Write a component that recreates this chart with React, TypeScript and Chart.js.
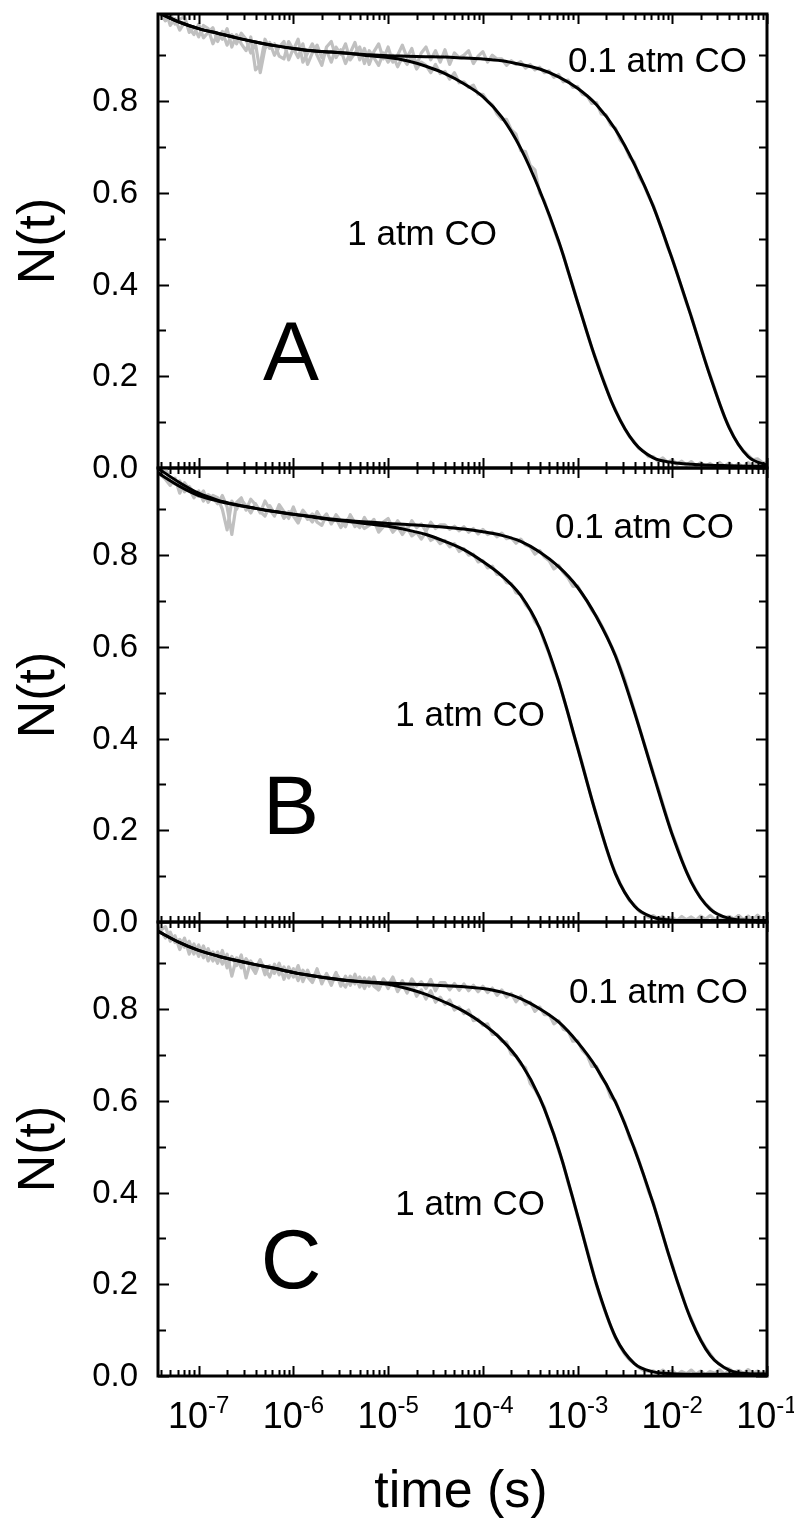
import React, { useEffect, useRef } from "react";
import { Chart, registerables } from "chart.js";
Chart.register(...registerables);

// ---------- data (log10 of time in s, and N(t)) ----------
const fitLogT = [-7.45, -7.2, -7.0, -6.8, -6.6, -6.4, -6.2, -6.0, -5.8, -5.6, -5.4, -5.2, -5.0, -4.8, -4.6, -4.4, -4.2, -4.0, -3.8, -3.6, -3.4, -3.2, -3.0, -2.8, -2.6, -2.4, -2.2, -2.0, -1.8, -1.6, -1.4, -1.2, -1.0];

const fitA_01 = [0.995, 0.972, 0.958, 0.948, 0.938, 0.929, 0.921, 0.915, 0.910, 0.907, 0.904, 0.901, 0.899, 0.898, 0.897, 0.896, 0.894, 0.892, 0.888, 0.880, 0.870, 0.853, 0.828, 0.792, 0.738, 0.662, 0.570, 0.455, 0.330, 0.200, 0.088, 0.025, 0.006];
const fitA_1 = [0.995, 0.972, 0.958, 0.948, 0.938, 0.929, 0.921, 0.915, 0.910, 0.907, 0.904, 0.899, 0.895, 0.888, 0.876, 0.860, 0.838, 0.810, 0.765, 0.697, 0.605, 0.495, 0.362, 0.232, 0.125, 0.055, 0.022, 0.012, 0.008, 0.006, 0.005, 0.004, 0.003];
const fitB_01 = [0.982, 0.950, 0.930, 0.918, 0.909, 0.902, 0.895, 0.889, 0.884, 0.879, 0.875, 0.872, 0.869, 0.867, 0.864, 0.861, 0.857, 0.851, 0.843, 0.830, 0.807, 0.775, 0.730, 0.665, 0.580, 0.458, 0.322, 0.190, 0.087, 0.028, 0.008, 0.004, 0.003];
const fitB_1 = [0.992, 0.958, 0.935, 0.920, 0.910, 0.902, 0.895, 0.889, 0.883, 0.877, 0.873, 0.868, 0.863, 0.855, 0.845, 0.830, 0.812, 0.786, 0.755, 0.712, 0.640, 0.525, 0.380, 0.232, 0.105, 0.035, 0.010, 0.004, 0.003, 0.003, 0.003, 0.003, 0.003];
const fitC_01 = [0.972, 0.945, 0.928, 0.916, 0.906, 0.897, 0.889, 0.880, 0.873, 0.867, 0.862, 0.859, 0.857, 0.855, 0.853, 0.851, 0.849, 0.845, 0.837, 0.823, 0.801, 0.772, 0.728, 0.672, 0.597, 0.495, 0.375, 0.240, 0.122, 0.045, 0.013, 0.005, 0.004];
const fitC_1 = [0.972, 0.945, 0.928, 0.916, 0.906, 0.897, 0.889, 0.880, 0.873, 0.867, 0.862, 0.858, 0.854, 0.845, 0.832, 0.815, 0.795, 0.768, 0.733, 0.683, 0.607, 0.495, 0.350, 0.200, 0.085, 0.027, 0.009, 0.005, 0.004, 0.004, 0.004, 0.004, 0.004];

const dataLogT = [
  -7.45, -7.35, -7.30, -7.25, -7.20, -7.15, -7.10, -7.05, -7.00, -6.95, -6.90, -6.85,
  -6.80, -6.75, -6.70, -6.65, -6.60, -6.55, -6.50, -6.45, -6.40, -6.35, -6.30, -6.25,
  -6.20, -6.15, -6.10, -6.05, -6.00, -5.95, -5.90, -5.85, -5.80, -5.75, -5.70, -5.65,
  -5.60, -5.55, -5.50, -5.45, -5.40, -5.35, -5.30, -5.25, -5.20, -5.15, -5.10, -5.05,
  -5.00, -4.95, -4.90, -4.85, -4.80, -4.75, -4.70, -4.65, -4.60, -4.55, -4.50, -4.45,
  -4.40, -4.35, -4.30, -4.25, -4.20, -4.15, -4.10, -4.05, -4.00, -3.95, -3.90, -3.85,
  -3.80, -3.75, -3.70, -3.65, -3.60, -3.55, -3.50, -3.45, -3.40, -3.35, -3.30, -3.25,
  -3.20, -3.15, -3.10, -3.05, -3.00, -2.95, -2.90, -2.85, -2.80, -2.75, -2.70, -2.65,
  -2.60, -2.55, -2.50, -2.45, -2.40, -2.35, -2.30, -2.25, -2.20, -2.15, -2.10, -2.05,
  -2.00, -1.95, -1.90, -1.85, -1.80, -1.75, -1.70, -1.65, -1.60, -1.55, -1.50, -1.45,
  -1.40, -1.35, -1.30, -1.25, -1.20, -1.15, -1.10, -1.05, -1.00,
];

const dataA_01 = [
  1.000, 0.975, 0.992, 0.968, 0.978, 0.985, 0.950, 0.962, 0.940, 0.965, 0.958, 0.925,
  0.948, 0.935, 0.958, 0.918, 0.945, 0.925, 0.910, 0.940, 0.868, 0.880, 0.935, 0.915,
  0.925, 0.898, 0.892, 0.930, 0.912, 0.935, 0.885, 0.905, 0.925, 0.900, 0.878, 0.918,
  0.930, 0.895, 0.912, 0.882, 0.905, 0.928, 0.890, 0.915, 0.880, 0.908, 0.925, 0.892,
  0.918, 0.885, 0.900, 0.922, 0.895, 0.915, 0.878, 0.905, 0.918, 0.890, 0.910, 0.885,
  0.912, 0.880, 0.905, 0.895, 0.900, 0.910, 0.882, 0.898, 0.908, 0.885, 0.900, 0.892,
  0.892, 0.878, 0.888, 0.880, 0.886, 0.872, 0.880, 0.868, 0.874, 0.862, 0.866, 0.852,
  0.858, 0.842, 0.846, 0.830, 0.832, 0.815, 0.812, 0.795, 0.797, 0.772, 0.770, 0.748,
  0.741, 0.715, 0.702, 0.678, 0.667, 0.635, 0.618, 0.592, 0.573, 0.543, 0.515, 0.482,
  0.457, 0.425, 0.392, 0.360, 0.332, 0.298, 0.265, 0.232, 0.202, 0.172, 0.140, 0.112,
  0.090, 0.068, 0.050, 0.038, 0.028, 0.018, 0.020, 0.012, 0.010,
];
const dataA_1 = [
  0.985, 0.998, 0.965, 0.980, 0.955, 0.972, 0.960, 0.945, 0.968, 0.938, 0.950, 0.960,
  0.930, 0.952, 0.922, 0.945, 0.925, 0.948, 0.935, 0.905, 0.925, 0.862, 0.915, 0.928,
  0.900, 0.918, 0.930, 0.890, 0.915, 0.895, 0.925, 0.880, 0.905, 0.922, 0.895, 0.910,
  0.885, 0.918, 0.902, 0.925, 0.890, 0.905, 0.918, 0.882, 0.910, 0.895, 0.878, 0.905,
  0.885, 0.900, 0.875, 0.895, 0.880, 0.898, 0.870, 0.885, 0.878, 0.862, 0.880, 0.860,
  0.865, 0.848, 0.862, 0.840, 0.842, 0.830, 0.835, 0.815, 0.815, 0.800, 0.792, 0.772,
  0.760, 0.760, 0.738, 0.728, 0.692, 0.690, 0.660, 0.650, 0.600, 0.582, 0.550, 0.522,
  0.492, 0.465, 0.428, 0.398, 0.362, 0.330, 0.295, 0.262, 0.235, 0.205, 0.178, 0.148,
  0.127, 0.105, 0.085, 0.068, 0.057, 0.042, 0.036, 0.025, 0.025, 0.015, 0.022, 0.012,
  0.018, 0.008, 0.015, 0.006, 0.014, 0.005, 0.012, 0.003, 0.010, 0.002, 0.012, 0.004,
  0.011, 0.003, 0.009, 0.002, 0.012, 0.004, 0.010, 0.003, 0.008,
];
const dataB_01 = [
  0.985, 0.965, 0.952, 0.968, 0.935, 0.958, 0.945, 0.925, 0.940, 0.918, 0.932, 0.925,
  0.912, 0.930, 0.905, 0.845, 0.915, 0.925, 0.898, 0.922, 0.910, 0.892, 0.918, 0.900,
  0.885, 0.910, 0.895, 0.880, 0.905, 0.878, 0.898, 0.885, 0.872, 0.895, 0.878, 0.890,
  0.868, 0.888, 0.875, 0.862, 0.888, 0.870, 0.860, 0.882, 0.865, 0.878, 0.858, 0.872,
  0.880, 0.858, 0.875, 0.862, 0.855, 0.875, 0.860, 0.868, 0.852, 0.872, 0.858, 0.866,
  0.866, 0.856, 0.863, 0.853, 0.862, 0.850, 0.858, 0.846, 0.856, 0.845, 0.850, 0.840,
  0.848, 0.836, 0.838, 0.826, 0.835, 0.822, 0.818, 0.802, 0.810, 0.796, 0.788, 0.770,
  0.778, 0.762, 0.750, 0.732, 0.733, 0.714, 0.700, 0.680, 0.667, 0.648, 0.628, 0.605,
  0.583, 0.556, 0.528, 0.494, 0.461, 0.426, 0.392, 0.358, 0.325, 0.292, 0.258, 0.224,
  0.192, 0.166, 0.136, 0.110, 0.089, 0.070, 0.052, 0.040, 0.030, 0.020, 0.016, 0.009,
  0.012, 0.006, 0.014, 0.005, 0.012, 0.004, 0.015, 0.006, 0.010,
];
const dataB_1 = [
  0.975, 0.990, 0.962, 0.955, 0.962, 0.938, 0.950, 0.935, 0.928, 0.940, 0.915, 0.930,
  0.925, 0.900, 0.855, 0.918, 0.900, 0.920, 0.908, 0.892, 0.912, 0.895, 0.885, 0.908,
  0.890, 0.902, 0.880, 0.895, 0.885, 0.870, 0.895, 0.878, 0.890, 0.872, 0.865, 0.888,
  0.870, 0.880, 0.860, 0.875, 0.882, 0.862, 0.872, 0.858, 0.865, 0.875, 0.850, 0.862,
  0.868, 0.850, 0.862, 0.845, 0.860, 0.842, 0.850, 0.835, 0.850, 0.832, 0.838, 0.825,
  0.832, 0.818, 0.825, 0.808, 0.814, 0.800, 0.802, 0.785, 0.788, 0.772, 0.776, 0.758,
  0.757, 0.740, 0.738, 0.718, 0.714, 0.692, 0.680, 0.655, 0.642, 0.610, 0.585, 0.552,
  0.527, 0.490, 0.455, 0.415, 0.382, 0.345, 0.306, 0.268, 0.234, 0.198, 0.163, 0.132,
  0.107, 0.084, 0.064, 0.046, 0.037, 0.024, 0.018, 0.010, 0.014, 0.006, 0.012, 0.004,
  0.010, 0.003, 0.012, 0.005, 0.011, 0.004, 0.013, 0.006, 0.014, 0.005, 0.010, 0.004,
  0.012, 0.006, 0.014, 0.005, 0.013, 0.004, 0.011, 0.006, 0.010,
];
const dataC_01 = [
  0.985, 0.955, 0.968, 0.945, 0.952, 0.935, 0.948, 0.920, 0.940, 0.912, 0.932, 0.905,
  0.925, 0.898, 0.920, 0.872, 0.912, 0.890, 0.910, 0.895, 0.878, 0.905, 0.888, 0.870,
  0.898, 0.875, 0.892, 0.868, 0.888, 0.862, 0.885, 0.870, 0.858, 0.882, 0.866, 0.875,
  0.852, 0.878, 0.862, 0.848, 0.872, 0.855, 0.870, 0.845, 0.868, 0.850, 0.842, 0.866,
  0.852, 0.870, 0.845, 0.862, 0.842, 0.866, 0.850, 0.860, 0.845, 0.865, 0.840, 0.858,
  0.858, 0.842, 0.856, 0.841, 0.855, 0.840, 0.852, 0.838, 0.850, 0.836, 0.846, 0.830,
  0.842, 0.826, 0.834, 0.816, 0.828, 0.810, 0.815, 0.795, 0.805, 0.788, 0.788, 0.768,
  0.775, 0.756, 0.752, 0.730, 0.731, 0.710, 0.700, 0.675, 0.675, 0.652, 0.637, 0.608,
  0.600, 0.574, 0.552, 0.518, 0.498, 0.468, 0.436, 0.402, 0.378, 0.342, 0.308, 0.272,
  0.243, 0.208, 0.180, 0.148, 0.125, 0.100, 0.080, 0.062, 0.048, 0.034, 0.026, 0.017,
  0.016, 0.008, 0.012, 0.006, 0.010, 0.004, 0.011, 0.005, 0.008,
];
const dataC_1 = [
  0.965, 0.980, 0.948, 0.960, 0.930, 0.955, 0.920, 0.942, 0.915, 0.938, 0.905, 0.925,
  0.900, 0.928, 0.890, 0.915, 0.895, 0.918, 0.868, 0.905, 0.888, 0.908, 0.875, 0.895,
  0.878, 0.900, 0.865, 0.892, 0.870, 0.895, 0.860, 0.885, 0.862, 0.888, 0.855, 0.878,
  0.858, 0.880, 0.850, 0.872, 0.852, 0.876, 0.848, 0.868, 0.850, 0.870, 0.842, 0.865,
  0.845, 0.865, 0.838, 0.855, 0.835, 0.855, 0.828, 0.842, 0.822, 0.840, 0.815, 0.826,
  0.810, 0.820, 0.798, 0.805, 0.790, 0.798, 0.775, 0.778, 0.765, 0.768, 0.745, 0.745,
  0.730, 0.728, 0.702, 0.698, 0.680, 0.672, 0.638, 0.625, 0.605, 0.586, 0.552, 0.528,
  0.492, 0.462, 0.422, 0.388, 0.348, 0.312, 0.276, 0.238, 0.198, 0.165, 0.136, 0.108,
  0.083, 0.064, 0.047, 0.035, 0.027, 0.018, 0.012, 0.010, 0.011, 0.005, 0.013, 0.004,
  0.012, 0.003, 0.010, 0.005, 0.013, 0.004, 0.011, 0.003, 0.010, 0.006, 0.014, 0.004,
  0.012, 0.003, 0.011, 0.005, 0.014, 0.006, 0.010, 0.004, 0.009,
];

const xDecades = [-7, -6, -5, -4, -3, -2, -1];
const yTickValues = [0, 0.2, 0.4, 0.6, 0.8];

// ---------- layout / style ----------
const W = 794;
const H = 1519;
const X_MIN = 3.72e-8;
const X_MAX = 0.1;
const Y_MAX = 0.99;
const PLOT_LEFT = 158;
const PLOT_RIGHT = 767;
const FONT = '"Liberation Sans", Arial, sans-serif';
const GRAY = "#c0c0c0";

type Panel = {
  letter: string;
  top: number;
  bottom: number;
  fit01: number[];
  fit1: number[];
  data01: number[];
  data1: number[];
  lbl01: [number, number];
  lbl1: [number, number];
  showX: boolean;
};

const panels: Panel[] = [
  { letter: "A", top: 14, bottom: 468, fit01: fitA_01, fit1: fitA_1, data01: dataA_01, data1: dataA_1, lbl01: [747, 72], lbl1: [497, 245], showX: false },
  { letter: "B", top: 468, bottom: 922, fit01: fitB_01, fit1: fitB_1, data01: dataB_01, data1: dataB_1, lbl01: [734, 538], lbl1: [545, 726], showX: false },
  { letter: "C", top: 922, bottom: 1376, fit01: fitC_01, fit1: fitC_1, data01: dataC_01, data1: dataC_1, lbl01: [748, 1003], lbl1: [545, 1215], showX: true },
];

const toPts = (lt: number[], v: number[]) => lt.map((l, i) => ({ x: Math.pow(10, l), y: v[i] }));

function decorPlugin(p: Panel) {
  return {
    id: "decor" + p.letter,
    afterDatasetsDraw(chart: any) {
      const ctx = chart.ctx as CanvasRenderingContext2D;
      const { left, right, top, bottom } = chart.chartArea;
      const xs = chart.scales.x;
      const ys = chart.scales.y;
      ctx.save();
      ctx.strokeStyle = "#000";
      ctx.fillStyle = "#000";
      // x ticks (inward, top and bottom)
      ctx.lineWidth = 2;
      for (let n = -8; n <= -1; n++) {
        for (let k = 1; k <= 9; k++) {
          const v = k * Math.pow(10, n);
          if (v < X_MIN * 0.999 || v > X_MAX * 1.001) continue;
          const px = Math.round(xs.getPixelForValue(v)) + 0.5;
          const len = k === 1 ? 10 : 6;
          ctx.beginPath();
          ctx.moveTo(px, bottom);
          ctx.lineTo(px, bottom - len);
          ctx.moveTo(px, top);
          ctx.lineTo(px, top + len);
          ctx.stroke();
        }
      }
      // y ticks (inward, left and right)
      for (let i = 0; i <= 9; i++) {
        const v = i / 10;
        const py = Math.round(ys.getPixelForValue(v)) + 0.5;
        const len = i % 2 === 0 ? 11 : 8;
        ctx.beginPath();
        ctx.moveTo(left, py);
        ctx.lineTo(left + len, py);
        ctx.moveTo(right, py);
        ctx.lineTo(right - len, py);
        ctx.stroke();
      }
      // frame
      ctx.lineWidth = 3;
      ctx.strokeRect(left, top, right - left, bottom - top);

      // y tick labels
      ctx.font = "33px " + FONT;
      ctx.textAlign = "right";
      ctx.textBaseline = "middle";
      yTickValues.forEach((v) => {
        ctx.fillText(v.toFixed(1), 138, ys.getPixelForValue(v) + 1);
      });

      // y axis title
      ctx.save();
      ctx.translate(40, (top + bottom) / 2);
      ctx.rotate(-Math.PI / 2);
      ctx.font = "52px " + FONT;
      ctx.textAlign = "center";
      ctx.textBaseline = "middle";
      ctx.fillText("N(t)", 0, 0);
      ctx.restore();

      // annotations
      ctx.font = "35px " + FONT;
      ctx.textAlign = "right";
      ctx.textBaseline = "alphabetic";
      ctx.fillText("0.1 atm CO", p.lbl01[0], p.lbl01[1]);
      ctx.fillText("1 atm CO", p.lbl1[0], p.lbl1[1]);

      // panel letter
      ctx.font = "84px " + FONT;
      ctx.textAlign = "center";
      ctx.fillText(p.letter, 291, top + 366);

      if (p.showX) {
        xDecades.forEach((n) => {
          const px = xs.getPixelForValue(Math.pow(10, n));
          ctx.font = "36px " + FONT;
          const w1 = ctx.measureText("10").width;
          ctx.font = "24px " + FONT;
          const sup = String(n);
          const w2 = ctx.measureText(sup).width;
          const x0 = px - (w1 + w2) / 2;
          ctx.textAlign = "left";
          ctx.font = "36px " + FONT;
          ctx.fillText("10", x0, bottom + 52);
          ctx.font = "24px " + FONT;
          ctx.fillText(sup, x0 + w1, bottom + 37);
        });
        ctx.font = "52px " + FONT;
        ctx.textAlign = "center";
        ctx.fillText("time (s)", 461, 1507);
      }
      ctx.restore();
    },
  };
}

function PanelChart({ p }: { p: Panel }) {
  const ref = useRef<HTMLCanvasElement | null>(null);
  useEffect(() => {
    if (!ref.current) return;
    const chart = new Chart(ref.current, {
      type: "line",
      data: {
        datasets: [
          { data: toPts(dataLogT, p.data01), order: 2, borderColor: GRAY, borderWidth: 3.2, pointRadius: 0, tension: 0, borderJoinStyle: "round" as any },
          { data: toPts(dataLogT, p.data1), order: 2, borderColor: GRAY, borderWidth: 3.2, pointRadius: 0, tension: 0, borderJoinStyle: "round" as any },
          { data: toPts(fitLogT, p.fit01), order: 1, borderColor: "#000", borderWidth: 3, pointRadius: 0, cubicInterpolationMode: "monotone" as any },
          { data: toPts(fitLogT, p.fit1), order: 1, borderColor: "#000", borderWidth: 3, pointRadius: 0, cubicInterpolationMode: "monotone" as any },
        ],
      },
      options: {
        responsive: false,
        animation: false,
        devicePixelRatio: 1,
        events: [],
        layout: { padding: { left: PLOT_LEFT, right: W - PLOT_RIGHT, top: p.top, bottom: H - p.bottom } },
        plugins: { legend: { display: false }, tooltip: { enabled: false }, title: { display: false } },
        scales: {
          x: { type: "logarithmic", min: X_MIN, max: X_MAX, display: false },
          y: { type: "linear", min: 0, max: Y_MAX, display: false },
        },
      },
      plugins: [decorPlugin(p)],
    } as any);
    return () => chart.destroy();
  }, [p]);
  return (
    <canvas
      ref={ref}
      width={W}
      height={H}
      style={{ position: "absolute", left: 0, top: 0, width: W, height: H }}
    />
  );
}

export default function App() {
  return (
    <div style={{ position: "absolute", left: 0, top: 0, width: W, height: H, background: "#fff" }}>
      {panels.map((p) => (
        <PanelChart key={p.letter} p={p} />
      ))}
    </div>
  );
}
